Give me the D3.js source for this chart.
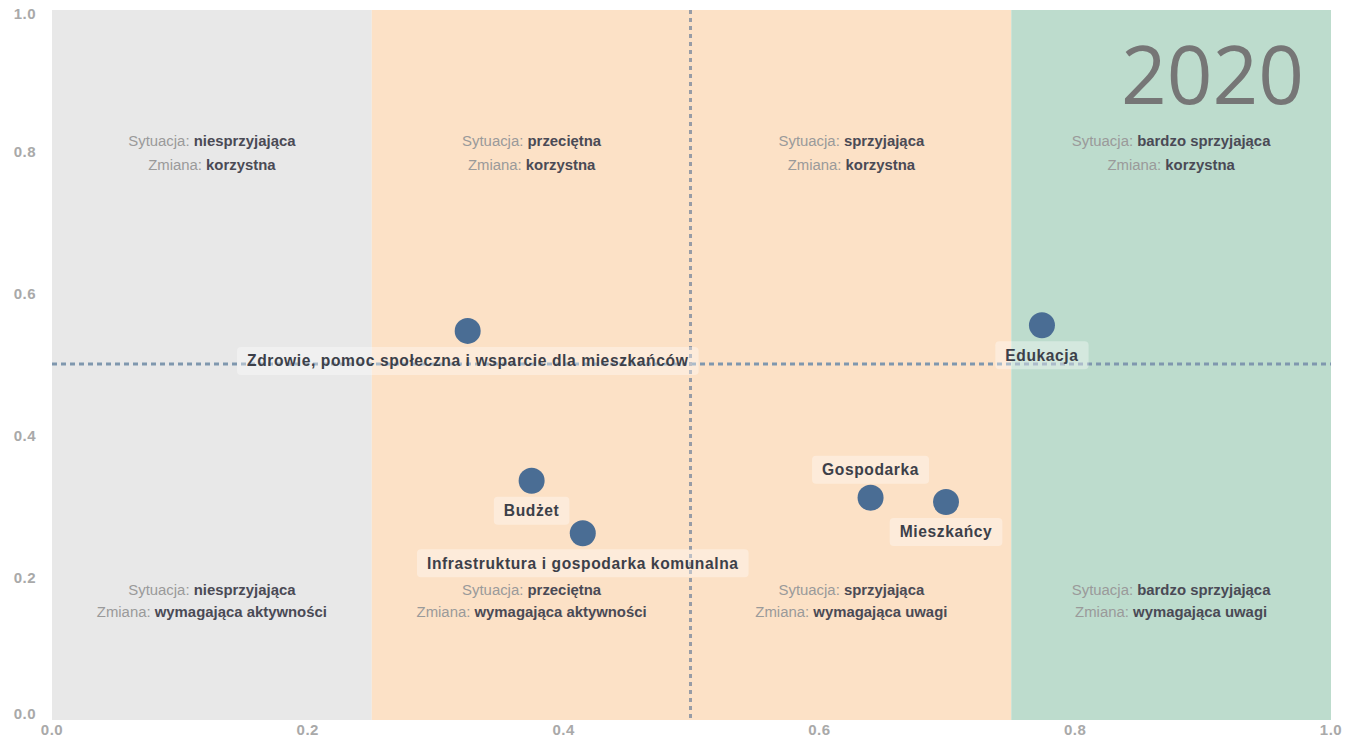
<!DOCTYPE html>
<html><head><meta charset="utf-8">
<script src="https://cdn.jsdelivr.net/npm/d3@7"></script>
<style>body{margin:0;background:#fff;}svg{display:block;font-family:"Liberation Sans",Arial,sans-serif;}</style>
</head><body><svg id="c" width="1359" height="740"></svg>
<script>
const names = ["Zdrowie, pomoc społeczna i wsparcie dla mieszkańców","Budżet","Infrastruktura i gospodarka komunalna","Gospodarka","Mieszkańcy","Edukacja"];
const xVals = [0.325,0.375,0.415,0.640,0.699,0.774];
const yVals = [0.548,0.337,0.263,0.313,0.307,0.556];
const labelPos = ["below","below","below","above","below","below"];
const ticks = [0,0.2,0.4,0.6,0.8,1.0];
const bands = [[0,0.25],[0.25,0.75],[0.75,1]];
const bandColors = ["#e8e8e8","#fce1c6","#bddccd"];
const sitLabels = ["niesprzyjająca","przeciętna","sprzyjająca","bardzo sprzyjająca"];
const topChange = ["korzystna","korzystna","korzystna","korzystna"];
const botChange = ["wymagająca aktywności","wymagająca aktywności","wymagająca uwagi","wymagająca uwagi"];
const year = "2020";

const svg = d3.select("#c");
const x = d3.scaleLinear().domain([0,1]).range([52,1331]);
const y = d3.scaleLinear().domain([0,1]).range([720,10]);

svg.selectAll("rect.band").data(bands).join("rect")
  .attr("x",d=>x(d[0])).attr("width",d=>x(d[1])-x(d[0]))
  .attr("y",y(1)).attr("height",y(0)-y(1))
  .attr("fill",(d,i)=>bandColors[i]);

// ticks
svg.selectAll("text.yt").data(ticks).join("text")
  .attr("x",36).attr("y",d=>Math.min(Math.max(y(d),14),714)).attr("dy","0.35em")
  .attr("text-anchor","end").attr("font-size",15).attr("font-weight","bold").attr("fill","#a9a9a9")
  .attr("letter-spacing",0.5)
  .text(d=>d.toFixed(1));
svg.selectAll("text.xt").data(ticks).join("text")
  .attr("x",d=>x(d)).attr("y",730).attr("dy","0.35em")
  .attr("text-anchor","middle").attr("font-size",15).attr("font-weight","bold").attr("fill","#a9a9a9")
  .attr("letter-spacing",0.5)
  .text(d=>d.toFixed(1));

// year
svg.append("text").attr("x",1304).attr("y",104).attr("text-anchor","end")
  .attr("font-family","'Open Sans',sans-serif").attr("font-size",80).attr("fill","#767676").text(year);

// quadrant texts
const qx = [0.125,0.375,0.625,0.875];
function qtext(yy,pre,val,i){
  const t = svg.append("text").attr("x",x(qx[i])).attr("y",yy).attr("dy","0.35em")
    .attr("text-anchor","middle").attr("font-size",14.9);
  t.append("tspan").attr("fill","#9a9a9a").text(pre+" ");
  t.append("tspan").attr("fill","#4a4a55").attr("font-weight","bold").text(val);
}
qx.forEach((q,i)=>{
  qtext(141,"Sytuacja:",sitLabels[i],i);
  qtext(165,"Zmiana:",topChange[i],i);
  qtext(590,"Sytuacja:",sitLabels[i],i);
  qtext(612,"Zmiana:",botChange[i],i);
});

// reference lines
svg.append("line").attr("x1",x(0)).attr("x2",x(1)).attr("y1",y(0.5)-1).attr("y2",y(0.5)-1)
  .attr("stroke","#7f97ae").attr("stroke-width",3).attr("stroke-dasharray","5,4");
svg.append("line").attr("x1",x(0.5)-1).attr("x2",x(0.5)-1).attr("y1",y(1)).attr("y2",y(0))
  .attr("stroke","#979ca6").attr("stroke-width",3).attr("stroke-dasharray","4,4");

// points
const data = names.map((n,i)=>({n,x:xVals[i],y:yVals[i],pos:labelPos[i]}));
svg.selectAll("circle.pt").data(data).join("circle")
  .attr("cx",d=>x(d.x)).attr("cy",d=>y(d.y)).attr("r",13)
  .attr("fill","#4a6d94");

// labels
const lg = svg.selectAll("g.lab").data(data).join("g")
  .attr("transform",d=>`translate(${x(d.x)},${y(d.y)+(d.pos==="below"?30:-28)})`);
lg.append("text").attr("text-anchor","middle").attr("dy","0.35em")
  .attr("font-size",15.6).attr("font-weight","bold").attr("fill","#3c4049").attr("letter-spacing",0.6).text(d=>d.n)
  .each(function(){
    const b=this.getBBox();
    d3.select(this.parentNode).insert("rect","text")
      .attr("x",b.x-10).attr("y",-14).attr("width",b.width+20).attr("height",28)
      .attr("rx",4).attr("fill","#ffffff").attr("fill-opacity",0.35);
  });
</script></body></html>
